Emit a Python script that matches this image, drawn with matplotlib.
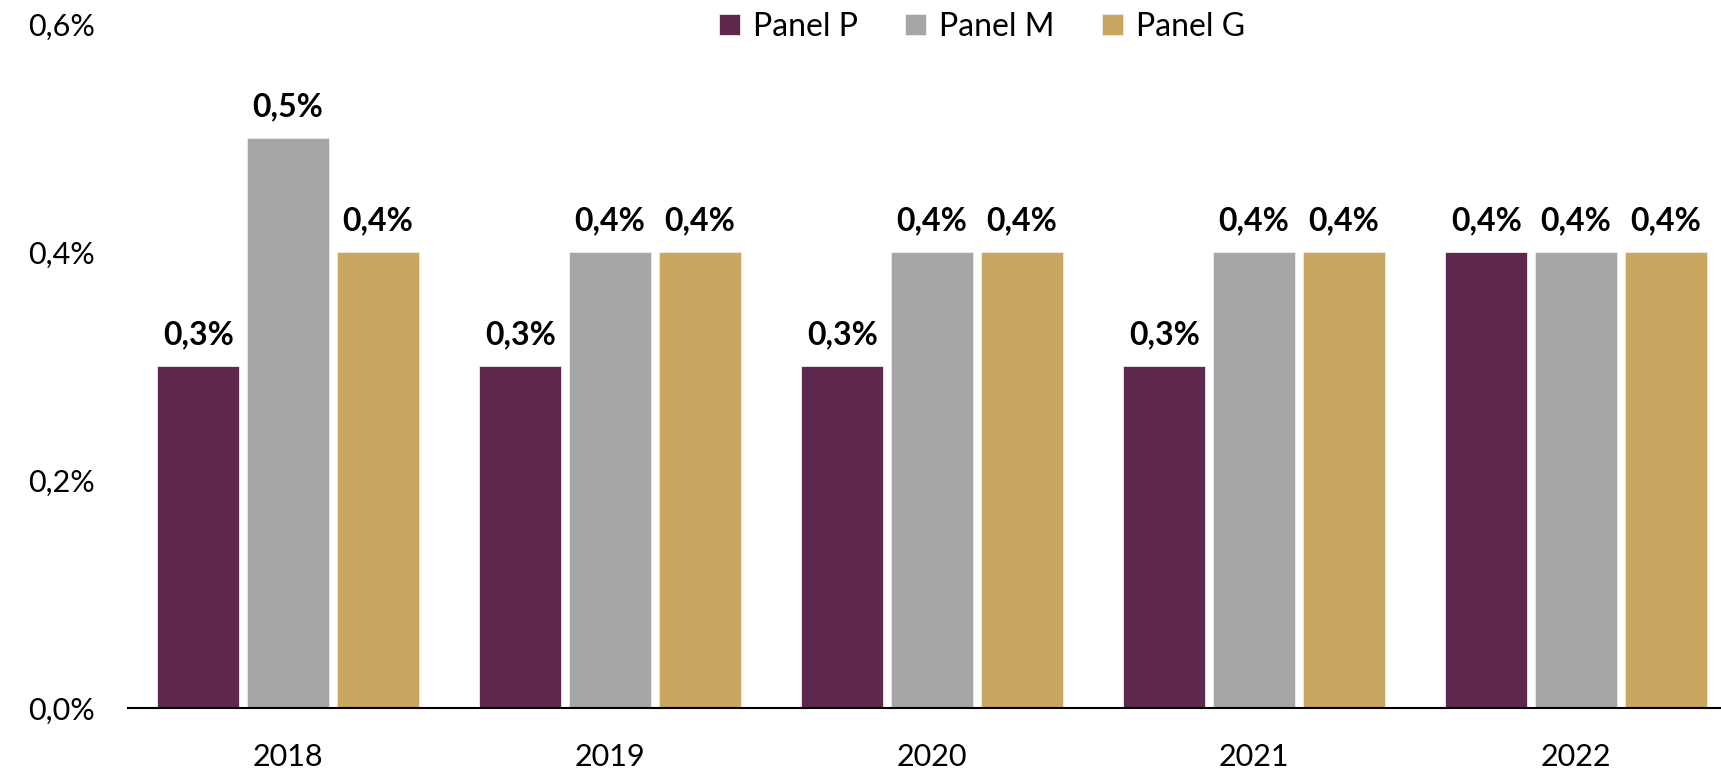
import numpy as np
import matplotlib
matplotlib.use('Agg')
import matplotlib.pyplot as plt

# Data
years = ['2018', '2019', '2020', '2021', '2022']
series_names = ['Panel P', 'Panel M', 'Panel G']
panel_p = [0.3, 0.3, 0.3, 0.3, 0.4]
panel_m = [0.5, 0.4, 0.4, 0.4, 0.4]
panel_g = [0.4, 0.4, 0.4, 0.4, 0.4]
colors = ['#5E284E', '#A6A6A6', '#C9A761']

plt.rcParams['font.family'] = ['Lato', 'DejaVu Sans']

fig = plt.figure(figsize=(17.21, 7.71), dpi=100)
ax = fig.add_axes([0.0744, 0.0817, 0.9256, 0.8873])

x = np.arange(len(years))
width = 0.255
step = 0.279
for i, (vals, name) in enumerate(zip([panel_p, panel_m, panel_g], series_names)):
    pos = x + (i - 1) * step
    bars = ax.bar(pos, vals, width, color=colors[i], label=name,
                  edgecolor='#EDEDED', linewidth=0.6)
    for b, v in zip(bars, vals):
        ax.annotate(f'{v:.1f}%'.replace('.', ','),
                    (b.get_x() + b.get_width() / 2, v),
                    xytext=(0, 12), textcoords='offset points',
                    ha='center', va='bottom', fontsize=23, fontweight='bold')

ax.set_xlim(-0.497, 4.45)
ax.set_ylim(0, 0.6)
ax.set_yticks([0, 0.2, 0.4, 0.6])
ax.set_yticklabels(['0,0%', '0,2%', '0,4%', '0,6%'])
ax.set_xticks(x)
ax.set_xticklabels(years)
ax.tick_params(axis='both', length=0, labelsize=22)
ax.tick_params(axis='y', pad=24)
ax.tick_params(axis='x', pad=25)
for s in ['top', 'right', 'left']:
    ax.spines[s].set_visible(False)
ax.spines['bottom'].set_linewidth(1.5)

ax.legend(loc='center', bbox_to_anchor=(982 / 1721, 1 - 27 / 771),
          bbox_transform=fig.transFigure, ncol=3, frameon=False,
          fontsize=23, handlelength=0.65, handleheight=0.65,
          handletextpad=0.4, columnspacing=1.5)

fig.savefig('out.png', dpi=100)
